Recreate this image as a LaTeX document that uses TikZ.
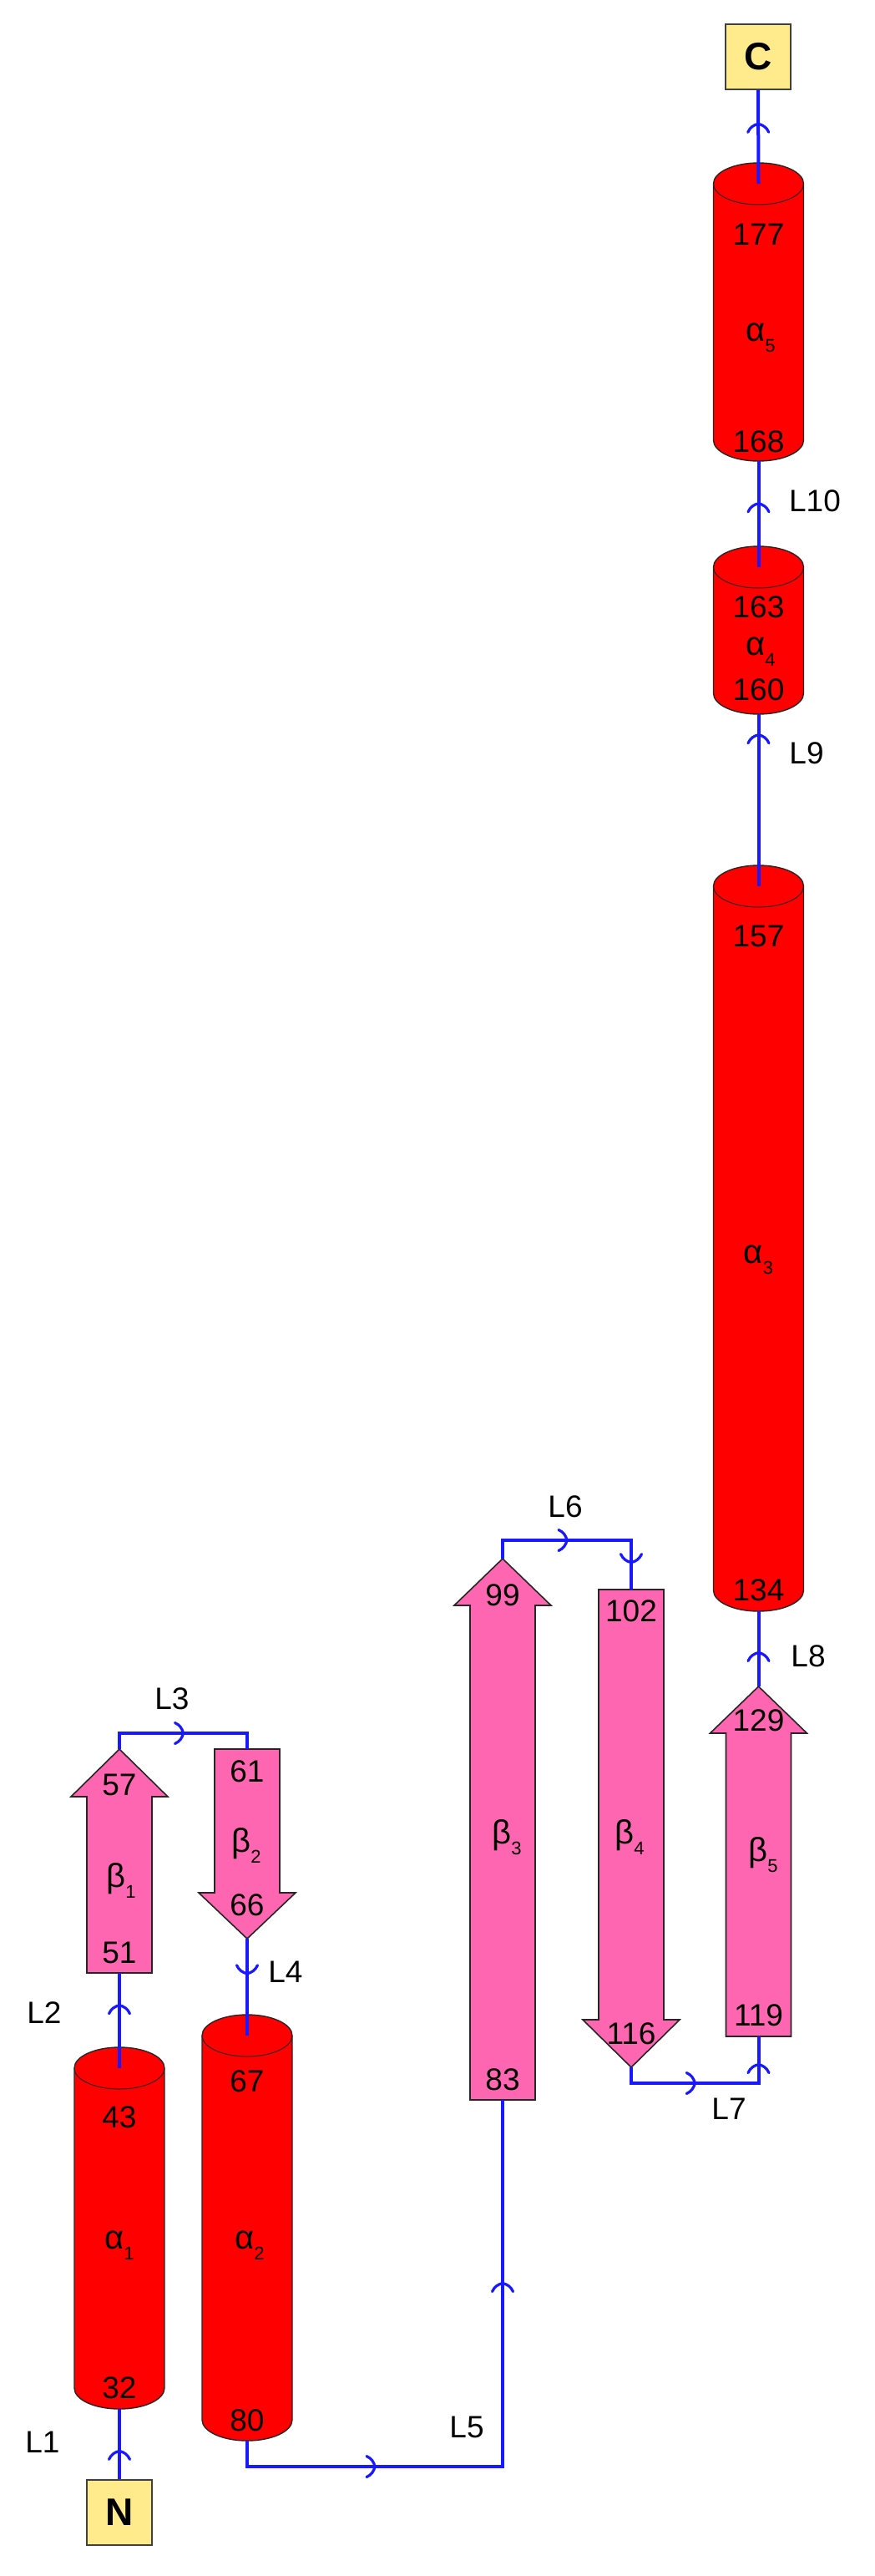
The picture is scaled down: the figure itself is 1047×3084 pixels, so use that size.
\documentclass[tikz,border=0pt]{standalone}
\usepackage{fontspec}
\setmainfont{Liberation Sans}
\usetikzlibrary{arrows.meta,decorations.markings,calc}
\definecolor{helixred}{RGB}{255,0,0}
\definecolor{strandpink}{RGB}{255,102,178}
\definecolor{termyellow}{RGB}{255,234,140}
\definecolor{loopblue}{RGB}{25,25,255}

\tikzset{
  helixbody/.style={fill=helixred, draw=black!85, line width=1.4pt},
  helixrim/.style={draw=black!85, line width=1pt},
  strandbody/.style={fill=strandpink, draw=black!85, line width=1.6pt, line join=miter},
  termbox/.style={draw=black!75, fill=termyellow, line width=2pt, minimum width=78pt, minimum height=78pt, inner sep=0pt, font=\fontsize{46}{46}\selectfont\bfseries},
  numlab/.style={inner sep=0pt, font=\fontsize{37}{37}\selectfont},
  looplab/.style={inner sep=0pt, font=\fontsize{37}{37}\selectfont},
  sselab/.style={inner sep=0pt, anchor=base},
  loopline/.style={draw=loopblue, line width=4pt},
  midarr/.style={postaction={decorate}, decoration={markings, mark=at position #1 with {\draw[draw=loopblue, line width=3.2pt, line cap=round, line join=miter] (-10pt,12.5pt) .. controls (-4pt,10pt) and (-1pt,5pt) .. (0pt,0pt) .. controls (-1pt,-5pt) and (-4pt,-10pt) .. (-10pt,-12.5pt);}}},
}

% helix cylinder: name, cx, top-ellipse centre y, bottom-ellipse centre y (pixels, downward)
\newcommand{\helixcyl}[4]{%
  \filldraw[helixbody] ({#2-54},{-#3}) -- ({#2-54},{-#4})
     arc[start angle=180,end angle=360,x radius=54,y radius=25]
     -- ({#2+54},{-#3})
     arc[start angle=0,end angle=180,x radius=54,y radius=25] -- cycle;
  \draw[helixrim] ({#2-54},{-#3}) arc[start angle=180,end angle=360,x radius=54,y radius=25];
  \coordinate (#1top) at (#2,{-#3});
  \coordinate (#1bot) at (#2,{-#4-25});
}
% upward strand: name, cx, tip y, head base y, bottom y
\newcommand{\strandup}[5]{%
  \filldraw[strandbody] ({#2-39},{-#5}) -- ({#2-39},{-#4}) -- ({#2-58},{-#4}) -- (#2,{-#3})
     -- ({#2+58},{-#4}) -- ({#2+39},{-#4}) -- ({#2+39},{-#5}) -- cycle;
  \coordinate (#1tip) at (#2,{-#3});
  \coordinate (#1end) at (#2,{-#5});
}
% downward strand: name, cx, top y, head base y, tip y
\newcommand{\stranddown}[5]{%
  \filldraw[strandbody] ({#2-39},{-#3}) -- ({#2-39},{-#4}) -- ({#2-58},{-#4}) -- (#2,{-#5})
     -- ({#2+58},{-#4}) -- ({#2+39},{-#4}) -- ({#2+39},{-#3}) -- cycle;
  \coordinate (#1end) at (#2,{-#3});
  \coordinate (#1tip) at (#2,{-#5});
}
\newcommand{\sselabel}[2]{{\fontsize{40}{40}\selectfont #1}\raisebox{-13pt}{\fontsize{22}{22}\selectfont #2}}

\begin{document}
\begin{tikzpicture}[x=1pt,y=1pt]
\fill[white] (0,0) rectangle (1047,-3084);
\useasboundingbox (0,0) rectangle (1047,-3084);

% ---- helices ----
\helixcyl{aone}{143}{2476}{2859}
\helixcyl{atwo}{296}{2437}{2897}
\helixcyl{athree}{908.5}{1061}{1904}
\helixcyl{afour}{908.5}{679}{830}
\helixcyl{afive}{908.5}{220}{527}

% ---- strands ----
\strandup{bone}{143}{2094}{2151}{2362}
\stranddown{btwo}{296}{2094}{2266}{2321}
\strandup{bthree}{602}{1866}{1922}{2514}
\stranddown{bfour}{756}{1903}{2418}{2475}
\strandup{bfive}{908.5}{2019}{2075}{2438}

% ---- termini ----
\node[termbox] (N) at (143,-3008) {N};
\node[termbox] (C) at (908,-68) {C};

% ---- loops ----
\draw[loopline, midarr=0.4] (N.north) -- (aonebot);
\draw[loopline, midarr=0.66] (aonetop) -- (boneend);

\coordinate (Lthreea) at ($(bonetip)+(0,19)$);
\coordinate (Lthreeb) at (btwoend |- Lthreea);
\draw[loopline, line join=miter] (bonetip) -- (Lthreea) -- (Lthreeb) -- (btwoend);
\draw[loopline, midarr=0.5] (Lthreea) -- (Lthreeb);

\draw[loopline, midarr=0.36] (btwotip) -- (atwotop);

\coordinate (Lfivea) at ($(atwobot)+(0,-31)$);
\coordinate (Lfiveb) at (bthreeend |- Lfivea);
\draw[loopline, line join=miter] (atwobot) -- (Lfivea) -- (Lfiveb) -- (bthreeend);
\draw[loopline, midarr=0.5] (Lfivea) -- (Lfiveb);
\draw[loopline, midarr=0.5] (Lfiveb) -- (bthreeend);

\coordinate (Lsixa) at ($(bthreetip)+(0,22)$);
\coordinate (Lsixb) at (bfourend |- Lsixa);
\draw[loopline, line join=miter] (bthreetip) -- (Lsixa) -- (Lsixb) -- (bfourend);
\draw[loopline, midarr=0.5] (Lsixa) -- (Lsixb);
\draw[loopline, midarr=0.45] (Lsixb) -- (bfourend);

\coordinate (Lsevena) at ($(bfourtip)+(0,-19)$);
\coordinate (Lsevenb) at (bfiveend |- Lsevena);
\draw[loopline, line join=miter] (bfourtip) -- (Lsevena) -- (Lsevenb) -- (bfiveend);
\draw[loopline, midarr=0.5] (Lsevena) -- (Lsevenb);
\draw[loopline, midarr=0.4] (Lsevenb) -- (bfiveend);

\draw[loopline, midarr=0.45] (bfivetip) -- (athreebot);
\draw[loopline, midarr=0.88] (athreetop) -- (afourbot);
\draw[loopline, midarr=0.6] (afourtop) -- (afivebot);
\draw[loopline, midarr=0.64] (afivetop) -- (C.south);

% ---- loop labels ----
\node[looplab] (lone) at (51,-2924) {L1};
\node[looplab] (ltwo) at (53,-2410) {L2};
\node[looplab] (lthree) at (206,-2034) {L3};
\node[looplab] (lfour) at (342,-2361) {L4};
\node[looplab] (lfive) at (559,-2906) {L5};
\node[looplab] (lsix) at (677,-1804) {L6};
\node[looplab] (lseven) at (873,-2525) {L7};
\node[looplab] (leight) at (968,-1983) {L8};
\node[looplab] (lnine) at (966,-902) {L9};
\node[looplab] (lten) at (976,-600) {L10};

% ---- residue numbers ----
\node[numlab] (nA) at (143,-2535) {43};
\node[numlab] (nB) at (143,-2859) {32};
\node[numlab] (nC) at (296,-2492) {67};
\node[numlab] (nD) at (296,-2898) {80};
\node[numlab] (nE) at (908.5,-1121) {157};
\node[numlab] (nF) at (908.5,-1904) {134};
\node[numlab] (nG) at (908.5,-727) {163};
\node[numlab] (nH) at (908.5,-826) {160};
\node[numlab] (nI) at (908.5,-281) {177};
\node[numlab] (nJ) at (908.5,-529) {168};
\node[numlab] (nK) at (143,-2137) {57};
\node[numlab] (nL) at (143,-2338) {51};
\node[numlab] (nM) at (296,-2121) {61};
\node[numlab] (nN) at (296,-2281) {66};
\node[numlab] (nO) at (602,-1910) {99};
\node[numlab] (nP) at (602,-2490) {83};
\node[numlab] (nQ) at (756,-1929) {102};
\node[numlab] (nR) at (756,-2435) {116};
\node[numlab] (nS) at (908.5,-2060) {129};
\node[numlab] (nT) at (908.5,-2413) {119};

% ---- element labels ----
\node[sselab] (sa1) at (143,-2692) {\sselabel{α}{1}};
\node[sselab] (sa2) at (299,-2692) {\sselabel{α}{2}};
\node[sselab] (sa3) at (908.5,-1512) {\sselabel{α}{3}};
\node[sselab] (sa4) at (911,-784) {\sselabel{α}{4}};
\node[sselab] (sa5) at (911,-408) {\sselabel{α}{5}};
\node[sselab] (sb1) at (145,-2259) {\sselabel{β}{1}};
\node[sselab] (sb2) at (295,-2217) {\sselabel{β}{2}};
\node[sselab] (sb3) at (607,-2207) {\sselabel{β}{3}};
\node[sselab] (sb4) at (754,-2207) {\sselabel{β}{4}};
\node[sselab] (sb5) at (914,-2228) {\sselabel{β}{5}};
\end{tikzpicture}
\end{document}
